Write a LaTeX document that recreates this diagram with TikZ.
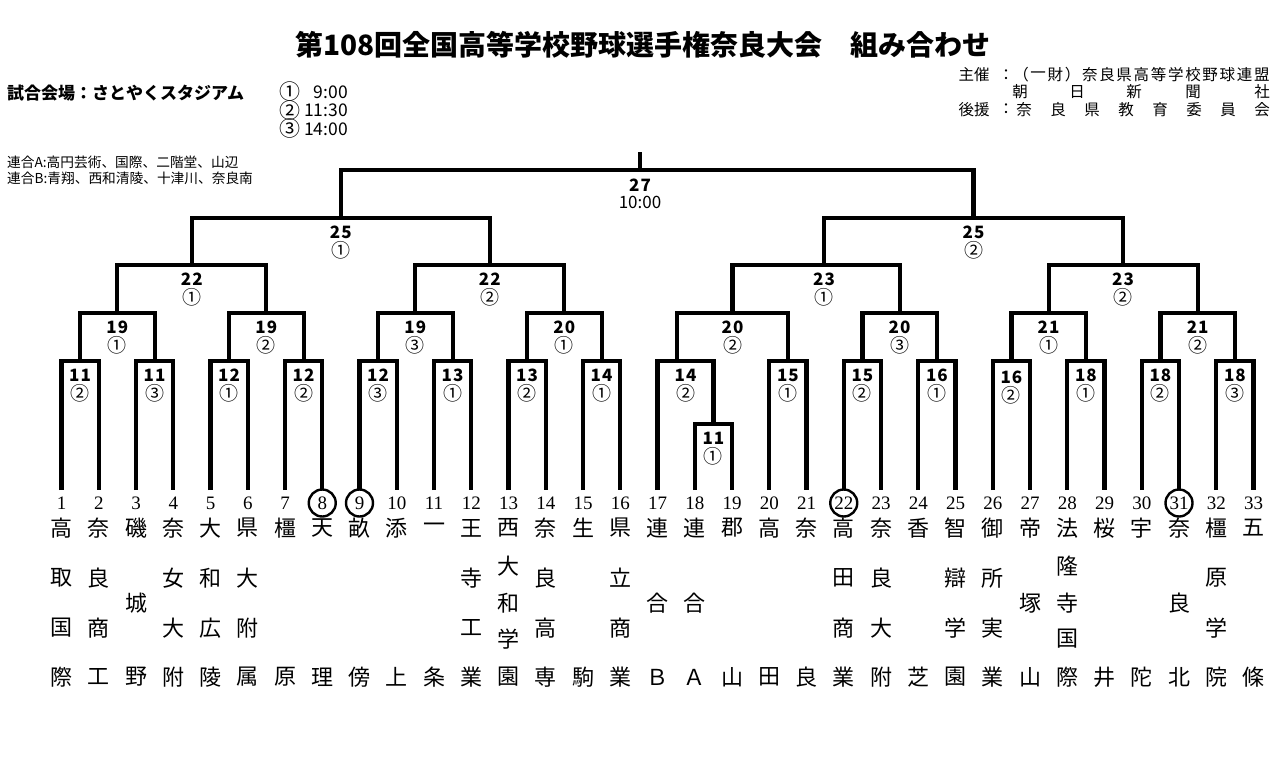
\documentclass[tikz,border=0pt]{standalone}
\usepackage{fontspec}
\newfontfamily\jp{Noto Sans CJK JP}
\newfontfamily\serifnum{Liberation Serif}
\newcommand\nmB[3]{\node[tch] (c#1a) at ({tx(#1)},528) {#2}; \node[tch] (c#1d) at ({tx(#1)},677) {#3};}
\newcommand\nmC[4]{\node[tch] (c#1a) at ({tx(#1)},528) {#2}; \node[tch] (c#1b) at ({tx(#1)},603) {#3}; \node[tch] (c#1d) at ({tx(#1)},677) {#4};}
\newcommand\nmD[5]{\node[tch] (c#1a) at ({tx(#1)},528) {#2}; \node[tch] (c#1b) at ({tx(#1)},578) {#3}; \node[tch] (c#1c) at ({tx(#1)},628) {#4}; \node[tch] (c#1d) at ({tx(#1)},677) {#5};}
\newcommand\nmE[6]{\node[tch] (c#1a) at ({tx(#1)},528) {#2}; \node[tch] (c#1b) at ({tx(#1)},566) {#3}; \node[tch] (c#1c) at ({tx(#1)},603) {#4}; \node[tch] (c#1e) at ({tx(#1)},639) {#5}; \node[tch] (c#1d) at ({tx(#1)},677) {#6};}
\newcommand\blab[5]{\node[lbn] (#1a) at (#2,{#3+14.5}) {#4}; \node[lbc] (#1b) at (#2,{#3+32.5}) {#5};}
\begin{document}
\begin{tikzpicture}[x=1pt,y=-1pt,
  declare function={tx(\i)=61.5+(\i-1)*37.25;},
  br/.style={line width=4.2pt, line join=miter},
  lbn/.style={font=\jp\bfseries\fontsize{17}{17}\selectfont\addfontfeature{LetterSpace=6}, inner sep=0pt},
  lbc/.style={font=\jp\fontsize{19}{19}\selectfont, inner sep=0pt},
  lbt/.style={font=\jp\fontsize{17}{17}\selectfont, inner sep=0pt},
  tnum/.style={font=\serifnum\fontsize{19}{19}\selectfont, inner sep=0pt},
  tcirc/.style={tnum, draw, circle, line width=2.4pt, minimum size=27pt},
  tch/.style={font=\jp\fontsize{22}{22}\selectfont, inner sep=0pt},
  ttl/.style={font=\jp\bfseries\fontsize{28}{28}\selectfont, inner sep=0pt},
  hdr/.style={font=\jp\bfseries\fontsize{17}{17}\selectfont, inner sep=0pt},
  tm/.style={font=\jp\fontsize{17.5}{17.5}\selectfont, inner sep=0pt},
  tmc/.style={font=\jp\fontsize{21}{21}\selectfont, inner sep=0pt},
  rg/.style={font=\jp\fontsize{13.7}{13.7}\selectfont, inner sep=0pt, anchor=west},
  sp/.style={font=\jp\fontsize{15.5}{15.5}\selectfont, inner sep=0pt}
]
\useasboundingbox[fill=white] (0,0) rectangle (1280,763);

% title and headers
\node[ttl] (title) at (643,45) {第108回全国高等学校野球選手権奈良大会　組み合わせ};
\node[hdr, anchor=west] (venue) at (7,93) {試合会場：さとやくスタジアム};
\node[tmc] (o1) at (290,92) {①};
\node[tmc] (o2) at (290,110.5) {②};
\node[tmc] (o3) at (290,129) {③};
\node[tm, anchor=east] (t1) at (348,92) {9:00};
\node[tm, anchor=east] (t2) at (348,110.5) {11:30};
\node[tm, anchor=east] (t3) at (348,129) {14:00};
\node[rg] (rgA) at (7,162) {連合A:高円芸術、国際、二階堂、山辺};
\node[rg] (rgB) at (7,178.5) {連合B:青翔、西和清陵、十津川、奈良南};

% sponsors
\node[sp] (sh) at (974,75) {主催};
\node[sp] (shc) at (1006,75) {：};
\foreach \c [count=\k] in {（,一,財,）,奈,良,県,高,等,学,校,野,球,連,盟}
  \node[sp] (sa\k) at ({1021+(\k-1)*17.2},75) {\c};
\node[sp] (sb1) at (1020,92) {朝};
\node[sp] (sb2) at (1077,92) {日};
\node[sp] (sb3) at (1134,92) {新};
\node[sp] (sb4) at (1193,92) {聞};
\node[sp] (sb5) at (1262,92) {社};
\node[sp] (kh) at (974,109.5) {後援};
\node[sp] (khc) at (1006,109.5) {：};
\foreach \c [count=\k] in {奈,良,県,教,育,委,員,会}
  \node[sp] (sc\k) at ({1024+(\k-1)*34},109.5) {\c};

% team numbers
\foreach \i in {1,...,7,10,11,12,13,14,15,16,17,18,19,20,21,23,24,25,26,27,28,29,30,32,33}
  \node[tnum] (n\i) at ({tx(\i)},503) {\i};
\foreach \i in {8,9,22,31}
  \node[tcirc] (n\i) at ({tx(\i)},503) {\i};

% team line ends
\foreach \i in {1,...,33}
  \coordinate (p\i) at ({tx(\i)},490);

% match points
\coordinate (m1) at (80.1,361);
\coordinate (m2) at (154.6,361);
\coordinate (m3) at (229.1,361);
\coordinate (m4) at (303.6,361);
\coordinate (m5) at (378.1,361);
\coordinate (m6) at (452.6,361);
\coordinate (m7) at (527.1,361);
\coordinate (m8) at (601.6,361);
\coordinate (m9) at (713.4,424);
\coordinate (m10) at (685.5,361);
\coordinate (m10s) at (677,361);
\coordinate (m11) at (787.9,361);
\coordinate (m12) at (862.4,361);
\coordinate (m13) at (936.9,361);
\coordinate (m14) at (1011.4,361);
\coordinate (m15) at (1085.9,361);
\coordinate (m16) at (1160.4,361);
\coordinate (m17) at (1234.9,361);
\coordinate (r1) at (117.3,313);
\coordinate (r2) at (266.3,313);
\coordinate (r3) at (415.3,313);
\coordinate (r4) at (564.3,313);
\coordinate (r5) at (732.5,313);
\coordinate (r6) at (899.6,313);
\coordinate (r7) at (1048.6,313);
\coordinate (r8) at (1197.6,313);
\coordinate (q1) at (191.8,265);
\coordinate (q2) at (489.8,265);
\coordinate (q3) at (824,265);
\coordinate (q4) at (1123.1,265);
\coordinate (s1) at (340.8,218);
\coordinate (s2) at (973.5,218);
\coordinate (f) at (640,170);
\coordinate (ftop) at (640,152);

% first round
\draw[br] (p1) |- (m1) -| (p2);
\draw[br] (p3) |- (m2) -| (p4);
\draw[br] (p5) |- (m3) -| (p6);
\draw[br] (p7) |- (m4) -| (p8);
\draw[br] (p9) |- (m5) -| (p10);
\draw[br] (p11) |- (m6) -| (p12);
\draw[br] (p13) |- (m7) -| (p14);
\draw[br] (p15) |- (m8) -| (p16);
\draw[br] (p18) |- (m9) -| (p19);
\draw[br] (p17) |- (m10) -| (m9);
\draw[br] (p20) |- (m11) -| (p21);
\draw[br] (p22) |- (m12) -| (p23);
\draw[br] (p24) |- (m13) -| (p25);
\draw[br] (p26) |- (m14) -| (p27);
\draw[br] (p28) |- (m15) -| (p29);
\draw[br] (p30) |- (m16) -| (p31);
\draw[br] (p32) |- (m17) -| (p33);
% second round
\draw[br] (m1) |- (r1) -| (m2);
\draw[br] (m3) |- (r2) -| (m4);
\draw[br] (m5) |- (r3) -| (m6);
\draw[br] (m7) |- (r4) -| (m8);
\draw[br] (m10s) |- (r5) -| (m11);
\draw[br] (m12) |- (r6) -| (m13);
\draw[br] (m14) |- (r7) -| (m15);
\draw[br] (m16) |- (r8) -| (m17);
% third round
\draw[br] (r1) |- (q1) -| (r2);
\draw[br] (r3) |- (q2) -| (r4);
\draw[br] (r5) |- (q3) -| (r6);
\draw[br] (r7) |- (q4) -| (r8);
% semi
\draw[br] (q1) |- (s1) -| (q2);
\draw[br] (q3) |- (s2) -| (q4);
% final
\draw[br] (s1) |- (f) -| (s2);
\draw[br] (f) -- (ftop);

% labels
\blab{L1}{80.1}{361}{11}{②}
\blab{L2}{154.6}{361}{11}{③}
\blab{L3}{229.1}{361}{12}{①}
\blab{L4}{303.6}{361}{12}{②}
\blab{L5}{378.1}{361}{12}{③}
\blab{L6}{452.6}{361}{13}{①}
\blab{L7}{527.1}{361}{13}{②}
\blab{L8}{601.6}{361}{14}{①}
\blab{L9}{713.4}{424}{11}{①}
\blab{L10}{685.5}{361}{14}{②}
\blab{L11}{787.9}{361}{15}{①}
\blab{L12}{862.4}{361}{15}{②}
\blab{L13}{936.9}{361}{16}{①}
\blab{L14}{1011.4}{363}{16}{②}
\blab{L15}{1085.9}{361}{18}{①}
\blab{L16}{1160.4}{361}{18}{②}
\blab{L17}{1234.9}{361}{18}{③}
\blab{R1}{117.3}{313}{19}{①}
\blab{R2}{266.3}{313}{19}{②}
\blab{R3}{415.3}{313}{19}{③}
\blab{R4}{564.3}{313}{20}{①}
\blab{R5}{732.5}{313}{20}{②}
\blab{R6}{899.6}{313}{20}{③}
\blab{R7}{1048.6}{313}{21}{①}
\blab{R8}{1197.6}{313}{21}{②}
\blab{Q1}{191.8}{265}{22}{①}
\blab{Q2}{489.8}{265}{22}{②}
\blab{Q3}{824}{265}{23}{①}
\blab{Q4}{1123.1}{265}{23}{②}
\blab{S1}{340.8}{218}{25}{①}
\blab{S2}{973.5}{218}{25}{②}
\node[lbn] (Fa) at (640,185.5) {27};
\node[lbt] (Fb) at (640,202.5) {10:00};

% team names
\nmD{1}{高}{取}{国}{際}
\nmD{2}{奈}{良}{商}{工}
\nmC{3}{磯}{城}{野}
\nmD{4}{奈}{女}{大}{附}
\nmD{5}{大}{和}{広}{陵}
\nmD{6}{県}{大}{附}{属}
\nmB{7}{橿}{原}
\nmB{8}{天}{理}
\nmB{9}{畝}{傍}
\nmB{10}{添}{上}
\nmB{11}{一}{条}
\nmD{12}{王}{寺}{工}{業}
\nmE{13}{西}{大}{和}{学}{園}
\nmD{14}{奈}{良}{高}{専}
\nmB{15}{生}{駒}
\nmD{16}{県}{立}{商}{業}
\nmC{17}{連}{合}{Ｂ}
\nmC{18}{連}{合}{Ａ}
\nmB{19}{郡}{山}
\nmB{20}{高}{田}
\nmB{21}{奈}{良}
\nmD{22}{高}{田}{商}{業}
\nmD{23}{奈}{良}{大}{附}
\nmB{24}{香}{芝}
\nmD{25}{智}{辯}{学}{園}
\nmD{26}{御}{所}{実}{業}
\nmC{27}{帝}{塚}{山}
\nmE{28}{法}{隆}{寺}{国}{際}
\nmB{29}{桜}{井}
\nmB{30}{宇}{陀}
\nmC{31}{奈}{良}{北}
\nmD{32}{橿}{原}{学}{院}
\nmB{33}{五}{條}
\end{tikzpicture}
\end{document}
